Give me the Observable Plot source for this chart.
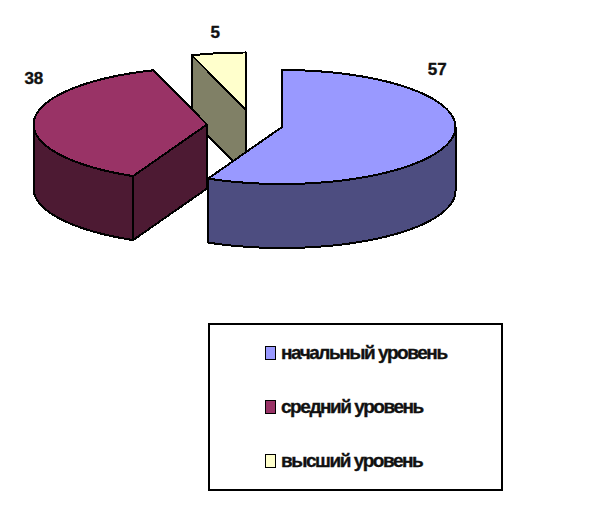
<!DOCTYPE html>
<html>
<head>
<meta charset="utf-8">
<script src="https://cdn.jsdelivr.net/npm/d3@7"></script>
<script src="https://cdn.jsdelivr.net/npm/@observablehq/plot@0.6"></script>
<style>
  html, body { margin: 0; padding: 0; background: #fff; }
  #chart svg { display: block; }
  #legend {
    box-sizing: border-box; position: absolute; left: 208px; top: 323px; width: 295px; height: 168px;
    border: 2px solid #000; background: #fff;
  }
  #legend div.row { position: absolute; left: 55px; display: flex; align-items: center; height: 20px;
    font: bold 19px "Liberation Sans", Arial, sans-serif; letter-spacing: -1.45px; color: #111; white-space: nowrap;
    -webkit-text-stroke: 0.35px #111; }
  #legend span.sw { display: inline-block; box-sizing: border-box; width: 11px; height: 14px; border: 1.6px solid #000; margin-right: 5px; }
</style>
</head>
<body>
<div id="chart"></div>
<div id="legend"></div>
<script>
// Data
const levels = ["начальный уровень", "средний уровень", "высший уровень"];
const values = [57, 38, 5];

// Styles
const topColors  = ["#9999FF", "#993366", "#FFFFCC"];
const sideColors = ["#4D4D80", "#4D1A33", "#808066"];

// Layout of the exploded 3D pie
const rx = 173.5, ry = 57, depth = 64;
const centers = [[281.5, 126.5], [206.5, 124], [245, 109]];
const labelShift = [[-14, -70], [0, -42], [-3, -21]];
const legendTops = [18, 72, 126];

const slices = d3.pie().sort(null).value(d => d)(values);
const pt = (c, a, dz = 0) => ({x: c[0] + rx * Math.sin(a), y: c[1] - ry * Math.cos(a) + dz});
const arc = (c, a0, a1, dz = 0) => {
  const n = Math.max(2, Math.ceil((a1 - a0) / 0.03));
  return d3.range(n + 1).map(i => pt(c, a0 + (a1 - a0) * i / n, dz));
};
const poly = (points, fill) => Plot.line(points, {
  x: "x", y: "y", fill, stroke: "#000", strokeWidth: 2,
  curve: "linear-closed", strokeLinejoin: "round"
});

const marks = [];
// Back to front: yellow, red, blue
[2, 1, 0].forEach(i => {
  const s = slices[i], c = centers[i];
  const a0 = s.startAngle, a1 = s.endAngle;
  const apex = {x: c[0], y: c[1]};
  const apexLow = {x: c[0], y: c[1] + depth};
  if (i === 2) {
    marks.push(poly([pt(c, a0), apex, apexLow, pt(c, a0, depth)], sideColors[i]));
  }
  if (i === 1) {
    marks.push(poly([pt(c, a0), apex, apexLow, pt(c, a0, depth)], sideColors[i]));
    const e = 1.5 * Math.PI;
    marks.push(poly([...arc(c, a0, e), ...arc(c, a0, e, depth).reverse()], sideColors[i]));
  }
  if (i === 0) {
    const b = 0.5 * Math.PI;
    marks.push(poly([...arc(c, b, a1), ...arc(c, b, a1, depth).reverse()], sideColors[i]));
  }
  marks.push(poly([apex, ...arc(c, a0, a1)], topColors[i]));
});

const labels = values.map((v, i) => {
  const s = slices[i];
  const p = pt(centers[i], (s.startAngle + s.endAngle) / 2);
  return {x: p.x + labelShift[i][0], y: p.y + labelShift[i][1], v};
});
marks.push(Plot.text(labels, {
  x: "x", y: "y", text: d => String(d.v), fill: "#111", stroke: "#111", strokeWidth: 0.35,
  fontSize: 17, fontWeight: "bold", fontFamily: "Liberation Sans, Arial, sans-serif",
  style: {letterSpacing: "-1.5px"}
}));

const plot = Plot.plot({
  width: 597, height: 322,
  margin: 0,
  x: {domain: [0, 597], range: [0, 597], axis: null},
  y: {domain: [0, 322], range: [0, 322], axis: null},
  style: {background: "#fff"},
  marks
});
plot.setAttribute("shape-rendering", "crispEdges");
document.getElementById("chart").append(plot);

const legend = document.getElementById("legend");
levels.forEach((name, i) => {
  const row = document.createElement("div");
  row.className = "row";
  row.style.top = legendTops[i] + "px";
  const sw = document.createElement("span");
  sw.className = "sw";
  sw.style.background = topColors[i];
  row.append(sw, name);
  legend.append(row);
});
</script>
</body>
</html>
